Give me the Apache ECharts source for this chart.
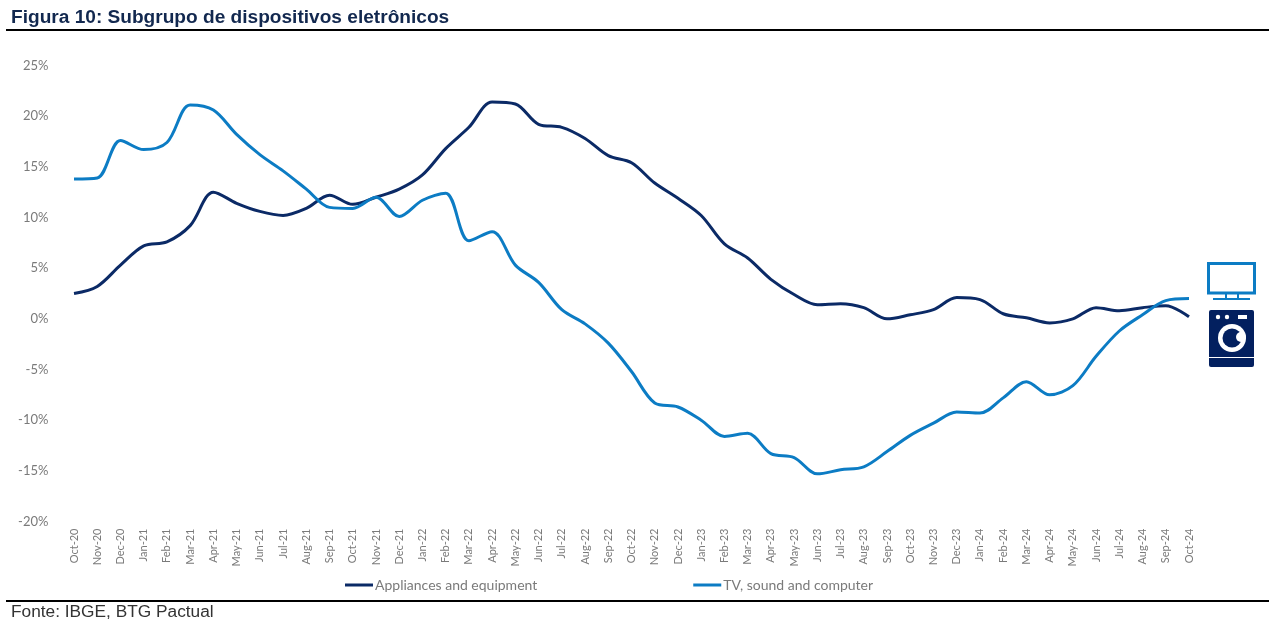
<!DOCTYPE html>
<html><head><meta charset="utf-8">
<script src="https://cdn.jsdelivr.net/npm/echarts@6/dist/echarts.min.js"></script>
<style>html,body{margin:0;padding:0;background:#fff}#c{width:1279px;height:628px}</style></head>
<body><div id="c"></div>
<script>
const categories = ["Oct-20","Nov-20","Dec-20","Jan-21","Feb-21","Mar-21","Apr-21","May-21","Jun-21","Jul-21","Aug-21","Sep-21","Oct-21","Nov-21","Dec-21","Jan-22","Feb-22","Mar-22","Apr-22","May-22","Jun-22","Jul-22","Aug-22","Sep-22","Oct-22","Nov-22","Dec-22","Jan-23","Feb-23","Mar-23","Apr-23","May-23","Jun-23","Jul-23","Aug-23","Sep-23","Oct-23","Nov-23","Dec-23","Jan-24","Feb-24","Mar-24","Apr-24","May-24","Jun-24","Jul-24","Aug-24","Sep-24","Oct-24"];
const appliances = [2.5,3.2,5.3,7.2,7.6,9.2,12.5,11.4,10.6,10.2,10.9,12.2,11.3,12.0,12.8,14.2,16.8,18.9,21.4,21.2,19.2,18.9,17.8,16.1,15.4,13.4,11.9,10.2,7.4,6.0,3.9,2.4,1.4,1.5,1.1,0.0,0.4,0.9,2.1,1.9,0.5,0.1,-0.4,0.0,1.1,0.8,1.1,1.3,0.2];
const tvSound = [13.8,13.9,17.6,16.7,17.4,21.1,20.6,18.2,16.2,14.6,12.8,11.0,10.9,12.0,10.1,11.7,12.4,7.7,8.6,5.3,3.6,0.9,-0.5,-2.4,-5.2,-8.3,-8.7,-10.0,-11.6,-11.3,-13.3,-13.7,-15.3,-14.9,-14.6,-13.1,-11.5,-10.3,-9.2,-9.3,-7.8,-6.2,-7.5,-6.6,-3.7,-1.2,0.4,1.8,2.0];
const NAVY = "#0b2a66", BLUE = "#0c7cc4", GREY = "#7a7a7a";
const chart = echarts.init(document.getElementById('c'), null, {renderer:'canvas'});
chart.setOption({
  animation:false,
  backgroundColor:'#fff',
  grid:{left:62.4,right:78.4,top:65.5,height:456,containLabel:false},
  legend:{left:340,top:573,itemWidth:28,itemHeight:3,itemGap:156,icon:'rect',
    textStyle:{fontFamily:'Lato',fontSize:14,color:GREY,padding:[0,0,0,-3]},
    data:['Appliances and equipment','TV, sound and computer']},
  xAxis:{type:'category',data:categories,boundaryGap:true,
    axisLine:{show:false,onZero:false},axisTick:{show:false},
    axisLabel:{rotate:90,interval:0,margin:7,fontFamily:'Lato',fontSize:11,color:GREY}},
  yAxis:{type:'value',min:-20,max:25,interval:5,splitLine:{show:false},axisLine:{show:false},axisTick:{show:false},
    axisLabel:{formatter:'{value}%',margin:14,fontFamily:'Lato',fontSize:13,color:GREY}},
  series:[
    {name:'Appliances and equipment',type:'line',data:appliances,smooth:0.33,showSymbol:false,lineStyle:{color:NAVY,width:3},itemStyle:{color:NAVY}},
    {name:'TV, sound and computer',type:'line',data:tvSound,smooth:0.33,showSymbol:false,lineStyle:{color:BLUE,width:3},itemStyle:{color:BLUE}}
  ],
  graphic:[
    {type:'text',left:11,top:8,style:{text:'Figura 10: Subgrupo de dispositivos eletrônicos',font:'bold 19.1px "Liberation Sans"',fill:'#12284f'}},
    {type:'rect',shape:{x:6,y:29,width:1263,height:2},style:{fill:'#000'}},
    {type:'rect',shape:{x:6,y:600,width:1263,height:2},style:{fill:'#000'}},
    {type:'text',left:11,top:604,style:{text:'Fonte: IBGE, BTG Pactual',font:'17.3px "Liberation Sans"',fill:'#333'}},
    // TV icon
    {type:'rect',shape:{x:1208.5,y:263.5,width:46,height:29.5},style:{fill:'none',stroke:BLUE,lineWidth:3}},
    {type:'rect',shape:{x:1225,y:294,width:2,height:4},style:{fill:BLUE}},
    {type:'rect',shape:{x:1237,y:294,width:2,height:4},style:{fill:BLUE}},
    {type:'rect',shape:{x:1213,y:298,width:37,height:2},style:{fill:BLUE}},
    // Washer icon
    {type:'rect',shape:{x:1209,y:310,width:45,height:47,r:[2,2,0,0]},style:{fill:'#03205f'}},
    {type:'rect',shape:{x:1209,y:358,width:45,height:9,r:[0,0,2,2]},style:{fill:'#03205f'}},
    {type:'circle',shape:{cx:1218,cy:317,r:2.2},style:{fill:'#fff'}},
    {type:'circle',shape:{cx:1227,cy:317,r:2.2},style:{fill:'#fff'}},
    {type:'rect',shape:{x:1238,y:315,width:9,height:4},style:{fill:'#fff'}},
    {type:'circle',shape:{cx:1232,cy:338,r:14},style:{fill:'#fff'}},
    {type:'circle',shape:{cx:1232,cy:338,r:9.5},style:{fill:'#03205f'}},
    {type:'circle',shape:{cx:1241,cy:337,r:5},style:{fill:'#fff'}}
  ]
});
</script></body></html>
